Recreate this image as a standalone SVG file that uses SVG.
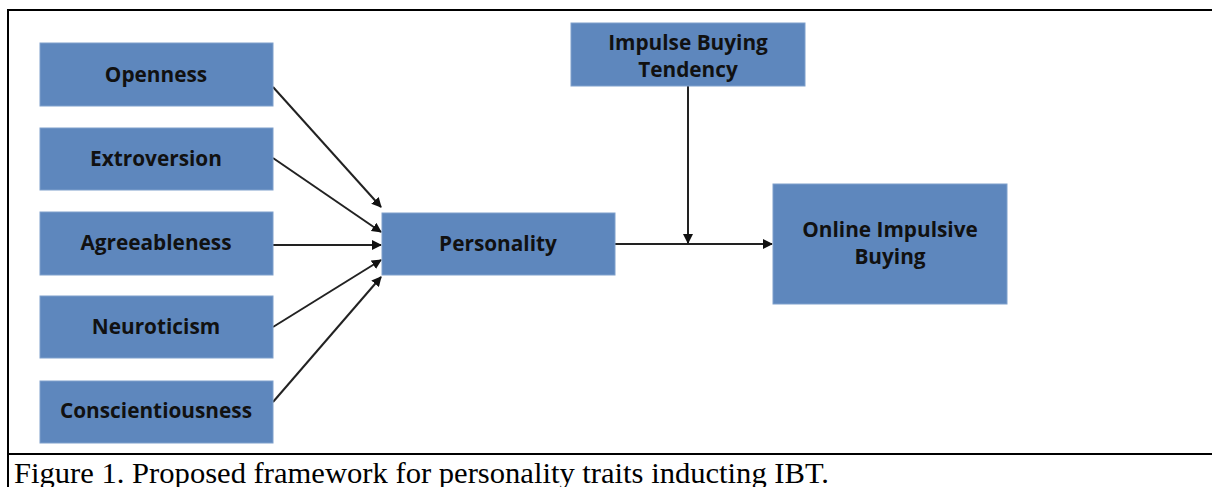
<svg xmlns="http://www.w3.org/2000/svg" width="1212" height="487" viewBox="0 0 1212 487">
<style>
.box{fill:#5e87bd;stroke:#7fa0cc;stroke-width:1}
.lbl{font-family:"Open Sans","Liberation Sans",sans-serif;font-weight:bold;font-size:20.8px;fill:#111;text-anchor:middle}
.con{stroke:#222;stroke-width:2;fill:none}
.frame{stroke:#000;stroke-width:2;fill:none}
.cap{font-family:"Liberation Serif","Times New Roman",serif;font-size:30px;fill:#000}
</style>
<defs>
<marker id="ah" viewBox="0 0 10 10" refX="9" refY="5" markerWidth="5" markerHeight="5" orient="auto" markerUnits="strokeWidth">
<path d="M0,0 L10,5 L0,10 z" fill="#111"/>
</marker>
</defs>
<rect width="1212" height="487" fill="#fff"/>
<g id="frame">
<line class="frame" x1="7" y1="10" x2="1212" y2="10"/>
<line class="frame" x1="8" y1="10" x2="8" y2="487"/>
<line class="frame" x1="7" y1="454" x2="1212" y2="454"/>
</g>
<g id="connectors">
<line class="con" x1="273" y1="87" x2="381" y2="207" marker-end="url(#ah)"/>
<line class="con" x1="273" y1="158" x2="381" y2="232" marker-end="url(#ah)"/>
<line class="con" x1="273" y1="245" x2="381" y2="245" marker-end="url(#ah)"/>
<line class="con" x1="273" y1="327" x2="381" y2="260" marker-end="url(#ah)"/>
<line class="con" x1="273" y1="402" x2="381" y2="277" marker-end="url(#ah)"/>
<line class="con" x1="615" y1="244" x2="772" y2="244" marker-end="url(#ah)"/>
<line class="con" x1="688" y1="86" x2="688" y2="243" marker-end="url(#ah)"/>
</g>
<g id="openness"><rect class="box" x="40" y="43" width="233" height="63"/><text class="lbl" x="156" y="82">Openness</text></g>
<g id="extroversion"><rect class="box" x="40" y="128" width="233" height="62"/><text class="lbl" x="156" y="166">Extroversion</text></g>
<g id="agreeableness"><rect class="box" x="40" y="212" width="233" height="63"/><text class="lbl" x="156" y="250">Agreeableness</text></g>
<g id="neuroticism"><rect class="box" x="40" y="296" width="233" height="62"/><text class="lbl" x="156" y="334">Neuroticism</text></g>
<g id="conscientiousness"><rect class="box" x="40" y="381" width="233" height="62"/><text class="lbl" x="156" y="418">Conscientiousness</text></g>
<g id="personality"><rect class="box" x="382" y="213" width="233" height="62"/><text class="lbl" x="498" y="251">Personality</text></g>
<g id="ibt"><rect class="box" x="571" y="23" width="234" height="63"/><text class="lbl" x="688" y="50">Impulse Buying</text><text class="lbl" x="688" y="77">Tendency</text></g>
<g id="oib"><rect class="box" x="773" y="184" width="234" height="120"/><text class="lbl" x="890" y="237">Online Impulsive</text><text class="lbl" x="890" y="264">Buying</text></g>
<text class="cap" x="14" y="483" textLength="815" lengthAdjust="spacingAndGlyphs">Figure 1. Proposed framework for personality traits inducting IBT.</text>
</svg>
